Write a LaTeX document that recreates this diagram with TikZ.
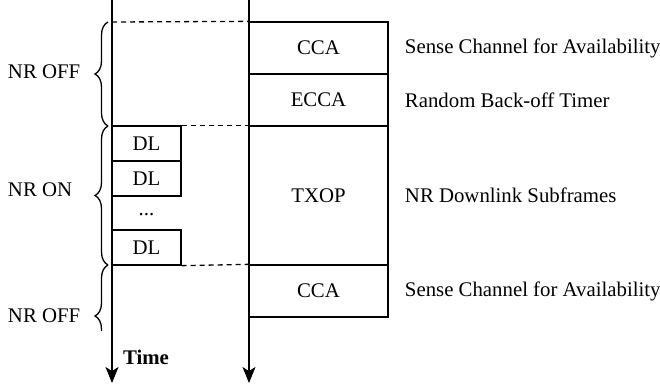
\documentclass[tikz,border=0pt]{standalone}
\usepackage{fontspec}
\setmainfont{Liberation Serif}
\usetikzlibrary{arrows.meta,decorations.pathreplacing}
\begin{document}
\begin{tikzpicture}[x=1pt,y=-1pt,line width=1.3pt]
  \tikzstyle{every node}=[font=\fontsize{20.8}{25}\selectfont]
  \tikzstyle{box}=[draw,rectangle,inner sep=0pt,minimum width=139pt,minimum height=52pt]
  \tikzstyle{dl}=[draw,rectangle,inner sep=0pt,minimum width=69pt,minimum height=35pt]
  \tikzstyle{axis}=[-{Stealth[length=16pt,width=13pt,inset=4pt]}]
  \tikzstyle{grid}=[dash pattern=on 5pt off 4pt]
  \tikzstyle{curly}=[decorate,decoration={brace,amplitude=13pt}]
  \useasboundingbox (0,0) rectangle (660,389);
  \coordinate (top1) at (112,0);
  \coordinate (end1) at (112,383);
  \coordinate (top2) at (249,0);
  \coordinate (end2) at (249,383);
  \coordinate (start) at (112,22);
  \node[box] (cca) at (318.5,48) {CCA};
  \node[box] (ecca) at (318.5,100) {ECCA};
  \node[box,minimum height=139pt] (txop) at (318.5,195.5) {TXOP};
  \node[box] (cca2) at (318.5,291) {CCA};
  \node[dl] (dl1) at (146.5,143.5) {DL};
  \node[dl] (dl2) at (146.5,178.5) {DL};
  \node (dots) at (146.5,215) {...};
  \node[dl] (dl3) at (146.5,247.5) {DL};
  \draw[axis] (top1) -- (end1);
  \draw[axis] (top2) -- (end2);
  \draw[grid] (start) -- (cca.north west);
  \draw[grid] (dl1.north east) -- (txop.north west);
  \draw[grid] (dl3.south east) -- (cca2.north west);
  \draw[curly] (108,126) -- (108,22);
  \draw[curly] (108,265) -- (108,126);
  \begin{scope}
    \clip (0,260) rectangle (660,330);
    \draw[curly] (108,367) -- (108,265);
  \end{scope}
  \node[anchor=west] (off1) at (4,72) {NR OFF};
  \node[anchor=west] (on) at (4,190) {NR ON};
  \node[anchor=west] (off2) at (4,316) {NR OFF};
  \node[font=\fontsize{20.8}{25}\selectfont\bfseries] (time) at (146,357) {Time};
  \node[anchor=west] (sense1) at (401,48) {Sense Channel for Availability};
  \node[anchor=west] (backoff) at (401,100) {Random Back-off Timer};
  \node[anchor=west] (down) at (401,195) {NR Downlink Subframes};
  \node[anchor=west] (sense2) at (401,291) {Sense Channel for Availability};
\end{tikzpicture}
\end{document}
